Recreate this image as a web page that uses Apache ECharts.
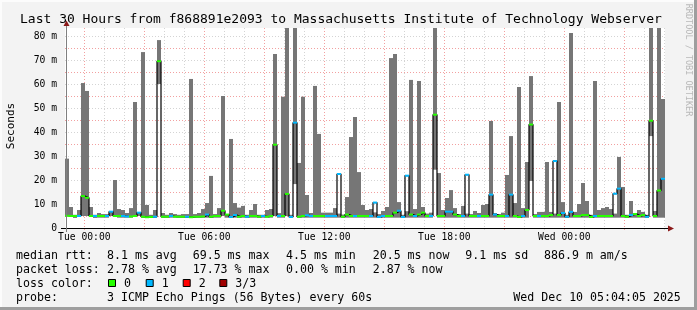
<!DOCTYPE html>
<html><head><meta charset="utf-8">
<script src="https://cdn.jsdelivr.net/npm/echarts@6/dist/echarts.min.js"></script>
<style>html,body{margin:0;padding:0;background:#f3f3f3;}#c{width:697px;height:310px;}</style>
</head><body><div id="c"></div>
<script>
// time axis in hours relative to Tue 00:00; one bar per 12 minutes
const START_HOUR = -0.965;
const STEP_HOUR = 0.2;
const Y_MAX = 83.333;

const MIN_RTT = [
 5,5,4.2,5,5,5,5,4.2,4.3,4.3,
 4.3,5,5,4.3,4.3,4.3,4.3,5,5,4.3,
 4.2,4.2,4.3,60,4.3,4.3,4.3,4.3,4.3,4.3,
 4.2,4.2,4.3,4.3,4.3,4.3,4.2,4.3,4.3,5,
 4.3,4.2,4.3,4.2,4.3,4.2,4.3,4.3,4.2,4.3,
 4.3,4.3,5,4.3,4.3,5,4.2,18.3,4.3,4.3,
 4.3,4.3,4.3,4.3,4.3,4.3,4.3,4.3,4.3,4.3,
 4.3,4.3,4.3,4.3,4.3,4.3,4.3,4.3,4.2,4.3,
 4.3,4.3,4.3,4.3,4.2,4.3,4.3,4.3,4.3,4.3,
 4.3,4.3,24.3,4.3,4.3,4.3,4.3,4.3,4.3,4.3,
 4.3,4.3,4.3,4.3,4.3,4.3,4.3,4.3,4.3,4.3,
 4.3,4.3,4.3,4.2,4.3,4.3,19.6,4.3,4.3,4.3,
 4.3,4.3,4.3,4.3,4.3,4.2,4.3,4.3,4.3,4.3,
 4.3,4.2,4.3,4.3,4.3,4.3,4.3,4.3,4.3,4.3,
 4.2,4.3,4.3,4.3,4.3,4.2,38.3,4.3,4.3,4.3
];
const MEDIAN_RTT = [
 5.1,5,5,5,13.3,12.6,5,5,5,5,
 5,6.8,5,5,5,4.8,4.8,5,6.4,4.7,
 4.5,4.6,4.7,69.5,4.7,4.7,5,4.7,4.7,4.7,
 4.7,4.5,4.7,4.7,4.8,5.6,4.7,5,5,7.2,
 5.6,4.6,5.4,4.7,5,4.7,5,5,4.7,5,
 4.7,5,34.7,5,5,14.2,4.6,43.9,4.7,5,
 5.3,5,5,5,5,5,5,5,22.5,4.7,
 5.6,5,5,5,5,5,5,10.6,4.6,5,
 5,5,6.4,7.2,4.6,21.8,5.6,5,5.6,6.4,
 5,5,47.2,5,5,6.8,6.8,5.6,5,5,
 22.2,5,5,5,5,5,13.9,5.6,5,5,
 5,13.9,5,4.6,5,7.5,43.1,5,5,5,
 5,5.4,27.9,5.4,6.25,4.7,6.7,5,5,5.4,
 5.4,4.6,5,5,5,5,5,14.3,16.4,5,
 4.7,5.4,5.8,5,5.4,4.7,44.7,5,15.6,20.5
];
const MAX_RTT = [
 28.9,8.75,5.5,7.5,60.4,57.1,8.75,5.5,6.25,5.8,
 5.8,6.9,20,7.9,7.5,6.25,8.3,52.5,6.5,73.3,
 9.6,5.5,7.5,78.3,6.25,5.5,6.25,5.8,5.5,5.8,
 5.8,62.1,5.8,6.25,7.9,10.4,21.7,5.8,8.3,55,
 5.8,37.1,10.4,8.5,9.2,5.5,7.5,10,5.5,5.5,
 7.5,7.9,72.5,6.2,54.7,90,5.5,90,27.1,54.7,
 13.75,6.25,59.2,39.2,6.4,6.4,6.4,8.3,6,5.6,
 12.9,37.9,46.25,23.3,9.6,7.5,7.9,6.5,5.8,7.1,
 8.75,70.8,72.5,10.8,5.5,7,61.7,7.9,61.25,8.75,
 6,6.4,90,22.9,7.5,12.5,15.8,8.3,5.8,9.2,
 6,5.8,7.1,6.25,9.6,10,44.6,6.25,5.8,6.4,
 22.1,38.3,10.4,58.75,8.3,27.5,63.3,5.8,6.7,6.7,
 27.5,6.7,6,52.5,10.8,5.5,81.25,6.7,10,18.75,
 11.25,5.5,61.25,7.5,8.3,8.75,7.9,6,29.6,17.1,
 5.5,11.25,6,7.5,6.7,5.5,90,7.1,90,53.75
];
const LOSS = [
 0,0,0,1,0,0,0,1,0,0,
 1,1,0,0,1,1,0,0,1,0,
 0,0,1,0,0,0,1,0,0,0,
 1,0,0,0,0,1,0,0,0,0,
 0,1,1,0,0,1,0,0,0,1,
 0,0,0,1,0,0,1,1,0,0,
 1,1,0,0,0,1,1,1,1,0,
 0,0,1,0,0,0,1,1,1,1,
 0,0,0,1,1,1,0,1,0,0,
 0,1,0,0,0,1,1,0,0,1,
 1,0,0,1,0,0,1,1,0,0,
 1,1,0,0,1,0,0,0,1,0,
 0,0,1,0,1,1,1,0,0,0,
 0,0,1,0,0,0,0,1,1,0,
 0,1,0,0,0,1,0,0,0,1
];
const X_TICK_HOURS = [0, 6, 12, 18, 24];
const X_TICK_LABELS = ['Tue 00:00', 'Tue 06:00', 'Tue 12:00', 'Tue 18:00', 'Wed 00:00'];
const GRID_HOURS = [0,1,2,3,4,5,6,7,8,9,10,11,12,13,14,15,16,17,18,19,20,21,22,23,24,25,26,27,28,29];
const LOSS_COLORS = ['#26ff00', '#00b8ff', '#ff0000', '#a00000'];
const LOSS_LABELS = ['0', '1', '2', '3/3'];

const TITLE = 'Last 30 Hours from f868891e2093 to Massachusetts Institute of Technology Webserver';
const LEGEND_ROWS = [
  ['median rtt:', '8.1 ms avg', '69.5 ms max', '4.5 ms min', '20.5 ms now', '9.1 ms sd', '886.9 m am/s'],
  ['packet loss:', '2.78 % avg', '17.73 % max', '0.00 % min', '2.87 % now']
];
const PROBE_TEXT = '3 ICMP Echo Pings (56 Bytes) every 60s';
const DATE_TEXT = 'Wed Dec 10 05:04:05 2025';

const MONO = "'DejaVu Sans Mono', monospace";
const N = MEDIAN_RTT.length;
const t0 = i => START_HOUR + STEP_HOUR * i;

const smokeData = MIN_RTT.map((lo, i) => [t0(i), lo, MAX_RTT[i], t0(i + 1)]);
const lossData = MEDIAN_RTT.map((m, i) => [t0(i), m, t0(i + 1), LOSS[i]]);
const medianLine = MEDIAN_RTT.map((m, i) => [t0(i), m]);
medianLine.push([t0(N), MEDIAN_RTT[N - 1]]);

const chart = echarts.init(document.getElementById('c'), null, {renderer: 'canvas'});

const COLX = [16, 107, 192.7, 286, 372.7, 465.3, 544];
const ROWY = [255.5, 269.5, 283.5, 297.5];
const graphics = [];
function txt(x, y, s, extra) {
  graphics.push(Object.assign({type: 'text', x: x, y: y, z: 100, silent: true,
    style: {text: s, fill: '#000', font: '11.6px ' + MONO, verticalAlign: 'middle', align: 'left'}}, extra || {}));
}
// frame
graphics.push({type: 'rect', shape: {x: 0, y: 0, width: 697, height: 2}, style: {fill: '#fcfcfc'}, z: 100, silent: true});
graphics.push({type: 'rect', shape: {x: 0, y: 0, width: 2, height: 310}, style: {fill: '#fcfcfc'}, z: 100, silent: true});
graphics.push({type: 'rect', shape: {x: 694, y: 0, width: 3, height: 310}, style: {fill: '#9e9e9e'}, z: 100, silent: true});
graphics.push({type: 'rect', shape: {x: 0, y: 307, width: 697, height: 3}, style: {fill: '#9e9e9e'}, z: 100, silent: true});
// title
graphics.push({type: 'text', x: 20, y: 19.5, z: 100, silent: true,
  style: {text: TITLE, fill: '#000', font: '13px ' + MONO, verticalAlign: 'middle'}});
// watermark
graphics.push({type: 'text', x: 688, y: 60, rotation: -Math.PI / 2, z: 100, silent: true,
  style: {text: 'RRDTOOL / TOBI OETIKER', fill: '#b8b8b8', font: '8.5px ' + MONO, align: 'center', verticalAlign: 'middle'}});
// axis name
graphics.push({type: 'text', x: 11, y: 126, rotation: Math.PI / 2, z: 100, silent: true,
  style: {text: 'Seconds', fill: '#000', font: '11px ' + MONO, align: 'center', verticalAlign: 'middle'}});
// axis lines + arrows
graphics.push({type: 'line', shape: {x1: 61, y1: 228.5, x2: 669, y2: 228.5}, style: {stroke: '#000', lineWidth: 1}, z: 101, silent: true});
graphics.push({type: 'line', shape: {x1: 66.5, y1: 232, x2: 66.5, y2: 25}, style: {stroke: '#808080', lineWidth: 1}, z: 101, silent: true});
graphics.push({type: 'polygon', shape: {points: [[668, 225.5], [674, 228.5], [668, 231.5]]}, style: {fill: '#8b1a1a'}, z: 102, silent: true});
graphics.push({type: 'polygon', shape: {points: [[63.5, 26], [66.5, 20.5], [69.5, 26]]}, style: {fill: '#8b1a1a'}, z: 102, silent: true});
// legend rows
LEGEND_ROWS.forEach((row, r) => row.forEach((s, c) => txt(COLX[c], ROWY[r], s)));
txt(COLX[0], ROWY[2], 'loss color:');
const BOXX = [108, 145.7, 182.7, 219.3];
LOSS_LABELS.forEach((lab, i) => {
  graphics.push({type: 'rect', shape: {x: BOXX[i] + 0.5, y: ROWY[2] - 4, width: 7, height: 7},
    style: {fill: LOSS_COLORS[i], stroke: '#000', lineWidth: 1}, z: 100, silent: true});
  txt(BOXX[i] + 16, ROWY[2], lab);
});
txt(COLX[0], ROWY[3], 'probe:');
txt(COLX[1], ROWY[3], PROBE_TEXT);
txt(513.3, ROWY[3], DATE_TEXT);

function clipRect(r, params) {
  return echarts.graphic.clipRectByRect(r, {
    x: params.coordSys.x, y: params.coordSys.y, width: params.coordSys.width, height: params.coordSys.height});
}

chart.setOption({
  animation: false,
  backgroundColor: '#f3f3f3',
  graphic: graphics,
  grid: {left: 65, top: 28, width: 600, height: 200, show: true, backgroundColor: '#ffffff', borderWidth: 0},
  xAxis: {
    type: 'value', min: START_HOUR, max: START_HOUR + STEP_HOUR * N,
    axisLine: {show: false},
    axisTick: {show: false},
    splitLine: {show: false},
    axisLabel: {
      customValues: X_TICK_HOURS,
      formatter: v => { const i = X_TICK_HOURS.indexOf(Math.round(v)); return i >= 0 ? X_TICK_LABELS[i] : ''; },
      fontFamily: 'DejaVu Sans Mono', fontSize: 9.7, color: '#000', margin: 4
    }
  },
  yAxis: {
    type: 'value', min: 0, max: Y_MAX, interval: 5,
    axisLine: {show: false}, axisTick: {show: false},
    axisLabel: {
      formatter: v => (Math.abs(v % 10) < 1e-6 ? (v === 0 ? '0' : v + ' m') : ''),
      fontFamily: 'DejaVu Sans Mono', fontSize: 9.7, color: '#000', margin: 8
    },
    splitLine: {show: true, showMaxLine: false, showMinLine: false,
      lineStyle: {color: ['#f2a0a0', '#d4d4d4'], type: [1, 2], width: 1}}
  },
  series: [
    {
      type: 'custom', name: 'grid', silent: true, z: 1,
      data: GRID_HOURS.map(h => [h, 0]),
      encode: {x: 0, y: 1},
      renderItem: (params, api) => {
        const h = api.value(0);
        const a = api.coord([h, 0]);
        const b = api.coord([h, Y_MAX]);
        const x = Math.round(a[0]) + 0.5;
        return {type: 'line', shape: {x1: x, y1: a[1] + 2, x2: x, y2: b[1]},
          style: {stroke: h % 3 === 0 ? '#f2a0a0' : '#d4d4d4', lineWidth: 1, lineDash: [1, 2]}};
      }
    },
    {
      type: 'custom', name: 'smoke', silent: true, z: 2,
      data: smokeData,
      encode: {x: [0, 3], y: [1, 2]},
      renderItem: (params, api) => {
        const a = api.coord([api.value(0), api.value(1)]);
        const b = api.coord([api.value(3), api.value(2)]);
        const r = clipRect({x: a[0], y: b[1], width: b[0] - a[0], height: a[1] - b[1]}, params);
        return r && {type: 'rect', shape: r, style: {fill: '#767676'}};
      }
    },
    {
      type: 'line', name: 'median', silent: true, z: 3,
      data: medianLine, step: 'end', symbol: 'none',
      lineStyle: {color: '#000', width: 1.2}
    },
    {
      type: 'custom', name: 'loss', silent: true, z: 4,
      data: lossData,
      encode: {x: [0, 2], y: 1},
      renderItem: (params, api) => {
        const a = api.coord([api.value(0), api.value(1)]);
        const b = api.coord([api.value(2), api.value(1)]);
        const r = clipRect({x: a[0], y: a[1] - 1, width: b[0] - a[0], height: 2}, params);
        return r && {type: 'rect', shape: r, style: {fill: LOSS_COLORS[api.value(3)]}};
      }
    }
  ]
});
</script>
</body></html>
